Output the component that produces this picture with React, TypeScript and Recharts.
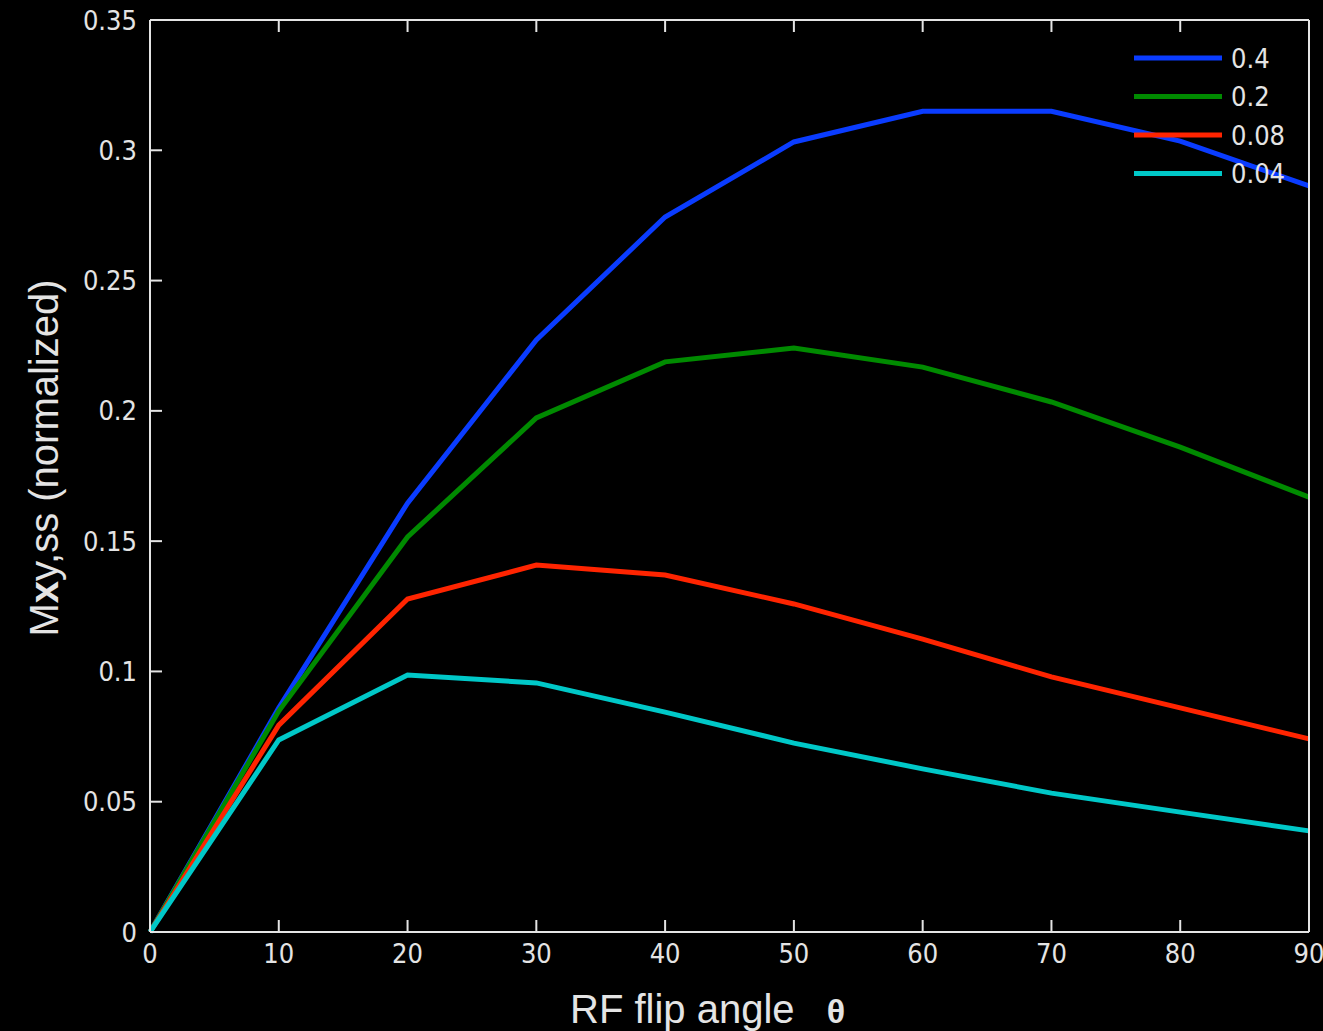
import React from 'react';
import { LineChart, Line, XAxis, YAxis, Legend } from 'recharts';

const angles = [0, 10, 20, 30, 40, 50, 60, 70, 80, 90];
const mxy04 = [0, 0.086, 0.1646, 0.2272, 0.2744, 0.3032, 0.315, 0.315, 0.3035, 0.2863];
const mxy02 = [0, 0.0848, 0.1516, 0.1973, 0.2188, 0.2241, 0.2168, 0.2034, 0.1861, 0.1669];
const mxy008 = [0, 0.0794, 0.1278, 0.1408, 0.137, 0.1259, 0.1124, 0.0979, 0.086, 0.0741];
const mxy004 = [0, 0.0737, 0.0986, 0.0956, 0.0844, 0.0725, 0.0626, 0.0533, 0.046, 0.0388];

const xTicks = [0, 10, 20, 30, 40, 50, 60, 70, 80, 90];
const yTicks = [0, 0.05, 0.1, 0.15, 0.2, 0.25, 0.3, 0.35];
const yTickLabels = ['0', '0.05', '0.1', '0.15', '0.2', '0.25', '0.3', '0.35'];

const SERIES = [
  { key: 's04', name: '0.4', color: '#0a3cff', values: mxy04 },
  { key: 's02', name: '0.2', color: '#008a00', values: mxy02 },
  { key: 's008', name: '0.08', color: '#ff2400', values: mxy008 },
  { key: 's004', name: '0.04', color: '#00c8c8', values: mxy004 },
];

const data = angles.map((a, i) => {
  const row: Record<string, number> = { angle: a };
  SERIES.forEach(s => { row[s.key] = s.values[i]; });
  return row;
});

const FG = '#e4e4e4';
const TICK_FONT = '"Liberation Sans Narrow", "DejaVu Sans Condensed", "Liberation Sans", sans-serif';
const LABEL_FONT = '"Liberation Sans", Arial, sans-serif';
const TICK_LEN = -12; // negative = ticks point into the plot
const axisLine = { stroke: FG, strokeWidth: 2 };
const tickLine = { stroke: FG, strokeWidth: 2 };
const tickText = { fill: FG, fontSize: 27, fontFamily: TICK_FONT };
const noLabel = () => <g />;

const renderLegend = (props: any) => {
  const items = [...(props.payload || [])].sort(
    (a: any, b: any) => SERIES.findIndex(s => s.name === a.value) - SERIES.findIndex(s => s.name === b.value)
  );
  return (
    <svg width={180} height={160}>
      {items.map((e: any, i: number) => {
        const y = 20 + i * 38.5;
        return (
          <g key={e.value}>
            <line x1={4} x2={92} y1={y} y2={y} stroke={e.color} strokeWidth={5} />
            <text x={101} y={y} dominantBaseline="central" fill={FG} fontSize={27} fontFamily={TICK_FONT}>
              {e.value}
            </text>
          </g>
        );
      })}
    </svg>
  );
};

const xLabel = () => (
  <g>
    <text x={570} y={1023} fill={FG} fontSize={40} fontFamily={LABEL_FONT}>RF flip angle</text>
    <text x={836} y={1023} textAnchor="middle" fill={FG} fontSize={34} fontWeight="bold" fontFamily={LABEL_FONT}>θ</text>
  </g>
);

const yLabel = () => (
  <text x={58} y={458} transform="rotate(-90, 58, 458)" textAnchor="middle" fill={FG} fontSize={40} fontFamily={LABEL_FONT}>
    M<tspan fontWeight="bold">x</tspan>y,ss (normalized)
  </text>
);

export default function App() {
  return (
    <div style={{ position: 'absolute', left: 0, top: 0, width: 1323, height: 1031, background: '#000' }}>
      <LineChart width={1323} height={1031} data={data} margin={{ top: 19, right: 13, left: 0, bottom: 0 }}>
        <XAxis
          xAxisId="bottom"
          dataKey="angle"
          type="number"
          domain={[0, 90]}
          ticks={xTicks}
          height={99}
          axisLine={axisLine}
          tickLine={tickLine}
          tickSize={TICK_LEN}
          tickMargin={24}
          tick={tickText}
          interval={0}
          label={{ content: xLabel }}
        />
        <XAxis
          xAxisId="top"
          orientation="top"
          dataKey="angle"
          type="number"
          domain={[0, 90]}
          ticks={xTicks}
          height={1}
          axisLine={axisLine}
          tickLine={tickLine}
          tickSize={TICK_LEN}
          tickMargin={0}
          tick={noLabel}
          interval={0}
        />
        <YAxis
          yAxisId="left"
          type="number"
          domain={[0, 0.35]}
          ticks={yTicks}
          width={150}
          axisLine={axisLine}
          tickLine={tickLine}
          tickSize={TICK_LEN}
          tickMargin={25}
          tick={tickText}
          tickFormatter={(v: number) => yTickLabels[yTicks.indexOf(v)] ?? String(v)}
          interval={0}
          label={{ content: yLabel }}
        />
        <YAxis
          yAxisId="right"
          orientation="right"
          type="number"
          domain={[0, 0.35]}
          ticks={yTicks}
          width={1}
          axisLine={axisLine}
          tickLine={tickLine}
          tickSize={TICK_LEN}
          tickMargin={0}
          tick={noLabel}
          interval={0}
        />
        <Legend
          layout="vertical"
          align="center"
          verticalAlign="middle"
          wrapperStyle={{ top: 38, left: 1130, width: 180 }}
          content={renderLegend}
        />
        {SERIES.map(s => (
          <Line
            key={s.key}
            xAxisId="bottom"
            yAxisId="left"
            type="linear"
            dataKey={s.key}
            name={s.name}
            stroke={s.color}
            strokeWidth={5}
            dot={false}
            activeDot={false}
            isAnimationActive={false}
          />
        ))}
      </LineChart>
    </div>
  );
}
